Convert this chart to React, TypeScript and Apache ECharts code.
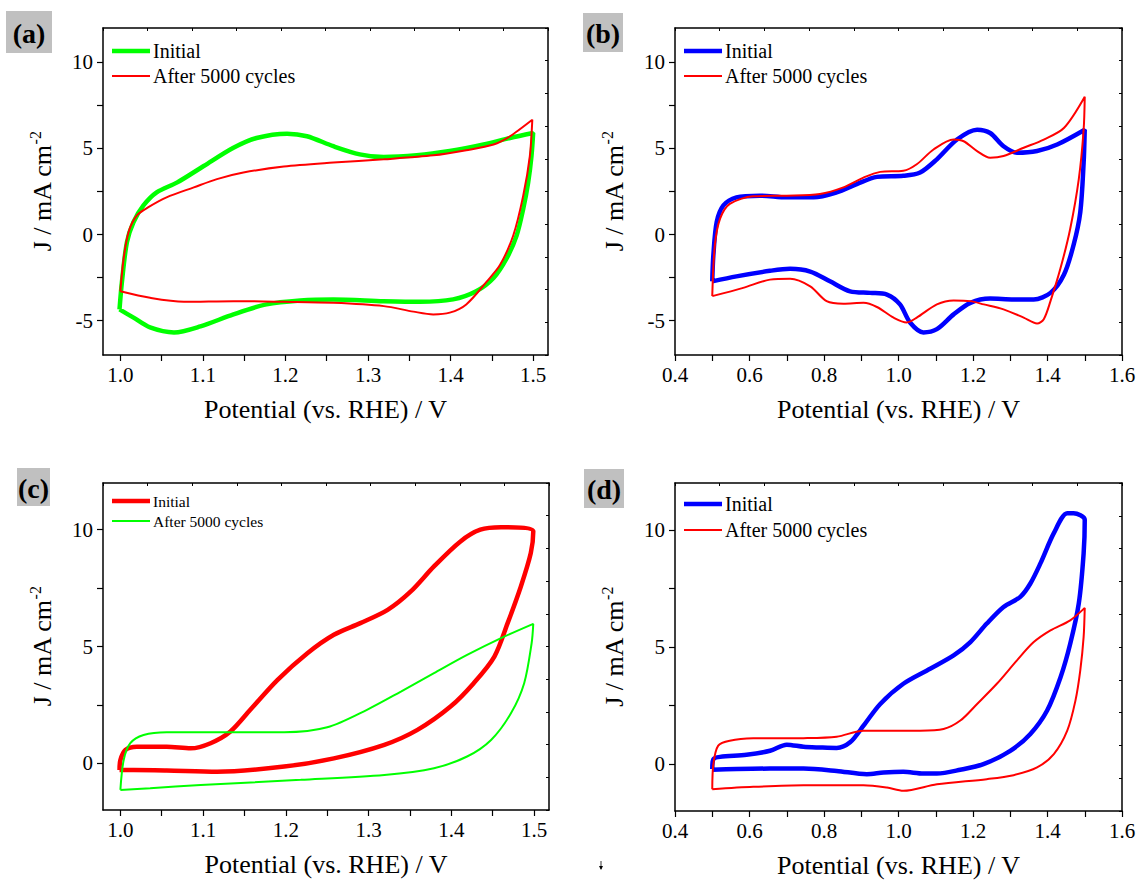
import React, { useEffect, useRef } from "react";
import * as echarts from "echarts";

// ---------- data (Potential V, J mA cm^-2) ----------
const aInitial: number[][] = [
  [0.999, -4.35], [1.002, -2.72], [1.008, -0.44], [1.016, 0.73], [1.028, 1.69], [1.044, 2.45], [1.069, 3.03],
  [1.101, 3.98], [1.137, 5.04], [1.165, 5.61], [1.202, 5.86], [1.226, 5.71], [1.258, 5.13], [1.29, 4.66],
  [1.319, 4.5], [1.359, 4.6], [1.399, 4.85], [1.44, 5.23], [1.472, 5.61], [1.5, 5.9],
  [1.498, 4.56], [1.494, 3.03], [1.488, 1.49], [1.48, -0.06], [1.468, -1.38], [1.452, -2.53], [1.431, -3.3],
  [1.403, -3.77], [1.363, -3.91], [1.319, -3.87], [1.258, -3.77], [1.218, -3.83], [1.177, -4.06], [1.137, -4.64],
  [1.097, -5.34], [1.065, -5.69], [1.036, -5.4], [1.016, -4.83], [0.999, -4.35],
];
const aAfter: number[][] = [
  [1.0, -3.3], [1.004, -1.38], [1.01, 0.15], [1.02, 1.11], [1.034, 1.59], [1.056, 2.16], [1.089, 2.74],
  [1.117, 3.22], [1.149, 3.6], [1.198, 3.95], [1.258, 4.18], [1.319, 4.37], [1.379, 4.6], [1.419, 4.9],
  [1.452, 5.23], [1.472, 5.71], [1.499, 6.67],
  [1.496, 4.56], [1.488, 2.26], [1.476, -0.04], [1.46, -1.76], [1.444, -2.72], [1.419, -4.06], [1.399, -4.54],
  [1.379, -4.64], [1.355, -4.48], [1.319, -4.16], [1.258, -3.97], [1.198, -3.91], [1.137, -3.87], [1.077, -3.91],
  [1.036, -3.68], [1.0, -3.3],
];
const bInitial: number[][] = [
  [0.5, -2.72], [0.503, -1.19], [0.512, 0.73], [0.53, 1.69], [0.565, 2.16], [0.628, 2.26], [0.7, 2.16],
  [0.772, 2.16], [0.834, 2.45], [0.888, 2.93], [0.942, 3.35], [1.013, 3.41], [1.058, 3.6], [1.103, 4.37],
  [1.157, 5.52], [1.211, 6.09], [1.246, 5.9], [1.282, 5.13], [1.318, 4.75], [1.372, 4.85], [1.426, 5.23], [1.5, 6.09],
  [1.497, 4.18], [1.488, 1.3], [1.47, -0.61], [1.444, -2.34], [1.408, -3.39], [1.363, -3.77], [1.309, -3.77],
  [1.246, -3.72], [1.193, -3.97], [1.148, -4.64], [1.103, -5.5], [1.067, -5.69], [1.031, -5.11], [1.004, -4.06],
  [0.969, -3.49], [0.924, -3.39], [0.87, -3.3], [0.816, -2.72], [0.763, -2.15], [0.709, -1.99], [0.655, -2.11],
  [0.565, -2.43], [0.5, -2.72],
];
const bAfter: number[][] = [
  [0.5, -3.58], [0.507, -0.61], [0.521, 0.92], [0.547, 1.78], [0.61, 2.22], [0.7, 2.26], [0.789, 2.36],
  [0.852, 2.74], [0.906, 3.31], [0.951, 3.64], [1.013, 3.7], [1.049, 4.08], [1.094, 4.94], [1.148, 5.52],
  [1.175, 5.42], [1.211, 4.85], [1.246, 4.46], [1.282, 4.56], [1.336, 5.04], [1.39, 5.52], [1.444, 6.19], [1.5, 8.01],
  [1.497, 6.09], [1.484, 3.22], [1.461, 0.34], [1.435, -1.95], [1.408, -3.87], [1.39, -4.92], [1.372, -5.17],
  [1.336, -4.83], [1.282, -4.35], [1.229, -4.06], [1.193, -3.87], [1.148, -3.83], [1.103, -4.06], [1.049, -4.83],
  [1.022, -5.11], [0.987, -4.83], [0.942, -4.21], [0.906, -3.97], [0.852, -4.02], [0.807, -3.87], [0.763, -3.01],
  [0.709, -2.57], [0.655, -2.62], [0.583, -3.1], [0.5, -3.58],
];
const cInitial: number[][] = [
  [0.999, -0.29], [1.0, 0.14], [1.006, 0.57], [1.02, 0.71], [1.056, 0.71], [1.085, 0.64], [1.109, 0.86],
  [1.133, 1.36], [1.157, 2.29], [1.19, 3.57], [1.226, 4.71], [1.258, 5.5], [1.29, 6.0], [1.323, 6.57],
  [1.351, 7.36], [1.379, 8.43], [1.411, 9.5], [1.435, 10.0], [1.46, 10.11], [1.499, 9.93],
  [1.496, 9.0], [1.484, 7.57], [1.468, 6.0], [1.452, 4.57], [1.427, 3.43], [1.399, 2.43], [1.359, 1.43],
  [1.319, 0.79], [1.258, 0.21], [1.198, -0.14], [1.117, -0.36], [1.056, -0.31], [1.016, -0.29], [0.999, -0.29],
];
const cAfter: number[][] = [
  [1.0, -1.14], [1.004, 0.14], [1.012, 0.86], [1.028, 1.21], [1.056, 1.33], [1.137, 1.33], [1.198, 1.33],
  [1.25, 1.54], [1.298, 2.29], [1.339, 3.07], [1.379, 3.86], [1.419, 4.64], [1.46, 5.36], [1.499, 5.97],
  [1.497, 5.14], [1.488, 3.43], [1.472, 2.14], [1.448, 1.0], [1.419, 0.29], [1.379, -0.21], [1.319, -0.5],
  [1.218, -0.71], [1.097, -0.93], [1.036, -1.07], [1.0, -1.14],
];
const dInitial: number[][] = [
  [0.5, -0.21], [0.503, 0.21], [0.521, 0.31], [0.592, 0.4], [0.655, 0.57], [0.7, 0.83], [0.745, 0.74],
  [0.789, 0.71], [0.834, 0.69], [0.87, 0.93], [0.906, 1.64], [0.951, 2.57], [1.013, 3.43], [1.085, 4.07],
  [1.148, 4.64], [1.193, 5.21], [1.237, 6.0], [1.282, 6.71], [1.327, 7.14], [1.354, 7.71], [1.381, 8.57],
  [1.417, 9.86], [1.453, 10.71], [1.47, 10.71], [1.5, 10.43],
  [1.497, 9.0], [1.484, 6.86], [1.461, 5.14], [1.435, 3.71], [1.399, 2.29], [1.354, 1.29], [1.3, 0.57],
  [1.228, 0.0], [1.166, -0.24], [1.103, -0.4], [1.067, -0.4], [1.013, -0.33], [0.96, -0.36], [0.915, -0.43],
  [0.834, -0.29], [0.745, -0.19], [0.655, -0.19], [0.565, -0.21], [0.5, -0.24],
];
const dAfter: number[][] = [
  [0.5, -1.07], [0.503, 0.0], [0.516, 0.79], [0.547, 1.0], [0.61, 1.1], [0.745, 1.11], [0.834, 1.17],
  [0.906, 1.43], [0.969, 1.43], [1.058, 1.43], [1.121, 1.5], [1.166, 1.86], [1.211, 2.57], [1.264, 3.43],
  [1.318, 4.43], [1.363, 5.21], [1.408, 5.71], [1.461, 6.14], [1.5, 6.67],
  [1.497, 5.43], [1.488, 4.0], [1.475, 2.71], [1.453, 1.43], [1.417, 0.43], [1.372, -0.14], [1.309, -0.47],
  [1.237, -0.64], [1.103, -0.86], [1.013, -1.14], [0.969, -1.0], [0.906, -0.9], [0.745, -0.9], [0.61, -0.97],
  [0.5, -1.07],
];

// tick values
const xTicksNarrow = [1.0, 1.05, 1.1, 1.15, 1.2, 1.25, 1.3, 1.35, 1.4, 1.45, 1.5];
const xLabelsNarrow = [1.0, 1.1, 1.2, 1.3, 1.4, 1.5];
const xTicksWide = [0.4, 0.5, 0.6, 0.7, 0.8, 0.9, 1.0, 1.1, 1.2, 1.3, 1.4, 1.5, 1.6];
const xLabelsWide = [0.4, 0.6, 0.8, 1.0, 1.2, 1.4, 1.6];
const yTicksTop = [-5, -2.5, 0, 2.5, 5, 7.5, 10];
const yLabelsTop = [-5, 0, 5, 10];
const yTicksBottom = [0, 2.5, 5, 7.5, 10];
const yLabelsBottom = [0, 5, 10];

const seriesNames = ["Initial", "After 5000 cycles"];
const panelLetters = ["a", "b", "c", "d"];

const GREEN = "#00ff00";
const RED = "#ff0000";
const BLUE = "#0000ff";
const FONT = "'Liberation Serif', 'Times New Roman', Times, serif";

type Panel = {
  grid: { left: number; top: number; width: number; height: number };
  xMin: number; xMax: number; xTicks: number[]; xLabels: number[];
  yMin: number; yMax: number; yTicks: number[]; yLabels: number[];
  data: number[][][]; colors: string[]; widths: number[];
  legend: { left: number; top: number; fontSize: number; itemHeight: number; itemGap: number };
  box: { x: number; y: number; w: number; h: number };
};

const panels: Panel[] = [
  {
    grid: { left: 103, top: 28, width: 445, height: 327 },
    xMin: 0.979, xMax: 1.518, xTicks: xTicksNarrow, xLabels: xLabelsNarrow,
    yMin: -7, yMax: 12, yTicks: yTicksTop, yLabels: yLabelsTop,
    data: [aInitial, aAfter], colors: [GREEN, RED], widths: [4.5, 2],
    legend: { left: 112, top: 41, fontSize: 20, itemHeight: 14, itemGap: 5 },
    box: { x: 6, y: 11, w: 46, h: 42 },
  },
  {
    grid: { left: 675, top: 28, width: 447, height: 327 },
    xMin: 0.4, xMax: 1.6, xTicks: xTicksWide, xLabels: xLabelsWide,
    yMin: -7, yMax: 12, yTicks: yTicksTop, yLabels: yLabelsTop,
    data: [bInitial, bAfter], colors: [BLUE, RED], widths: [4.5, 2],
    legend: { left: 684, top: 41, fontSize: 20, itemHeight: 14, itemGap: 5 },
    box: { x: 583, y: 13, w: 40, h: 39 },
  },
  {
    grid: { left: 103, top: 483, width: 446, height: 327 },
    xMin: 0.979, xMax: 1.518, xTicks: xTicksNarrow, xLabels: xLabelsNarrow,
    yMin: -2, yMax: 12, yTicks: yTicksBottom, yLabels: yLabelsBottom,
    data: [cInitial, cAfter], colors: [RED, GREEN], widths: [4.5, 2],
    legend: { left: 112, top: 493, fontSize: 15.5, itemHeight: 12, itemGap: 4 },
    box: { x: 17, y: 468, w: 33, h: 38 },
  },
  {
    grid: { left: 675, top: 483, width: 447, height: 328 },
    xMin: 0.4, xMax: 1.6, xTicks: xTicksWide, xLabels: xLabelsWide,
    yMin: -2, yMax: 12, yTicks: yTicksBottom, yLabels: yLabelsBottom,
    data: [dInitial, dAfter], colors: [BLUE, RED], widths: [4.5, 2],
    legend: { left: 684, top: 494, fontSize: 20, itemHeight: 14, itemGap: 6 },
    box: { x: 584, y: 469, w: 40, h: 39 },
  },
];

function buildOption() {
  const grid: any[] = [];
  const xAxis: any[] = [];
  const yAxis: any[] = [];
  const series: any[] = [];
  const legend: any[] = [];
  const graphic: any[] = [];
  const axisLineStyle = { color: "#000", width: 1.5 };

  panels.forEach((p, i) => {
    const letter = panelLetters[i];
    grid.push({ ...p.grid, containLabel: false });
    xAxis.push({
      type: "value", gridIndex: i, position: "bottom", min: p.xMin, max: p.xMax,
      axisLine: { show: true, onZero: false, lineStyle: axisLineStyle },
      axisTick: { show: true, inside: false, length: 6, customValues: p.xTicks, lineStyle: { color: "#000", width: 1.2 } },
      axisLabel: {
        customValues: p.xLabels, formatter: (v: number) => v.toFixed(1), margin: 9,
        fontSize: 21, fontFamily: FONT, color: "#000",
      },
      splitLine: { show: false },
      name: "Potential (vs. RHE) / V", nameLocation: "middle", nameGap: 41,
      nameTextStyle: { fontSize: 26, fontFamily: FONT, color: "#000" },
    });
    xAxis.push({
      type: "value", gridIndex: i, position: "top", min: 0, max: 10, interval: 1,
      axisLine: { show: true, onZero: false, lineStyle: axisLineStyle },
      axisTick: { show: true, inside: true, length: 3, lineStyle: { color: "#000", width: 1 } },
      axisLabel: { show: false }, splitLine: { show: false },
    });
    yAxis.push({
      type: "value", gridIndex: i, position: "left", min: p.yMin, max: p.yMax,
      axisLine: { show: true, onZero: false, lineStyle: axisLineStyle },
      axisTick: { show: true, inside: false, length: 6, customValues: p.yTicks, lineStyle: { color: "#000", width: 1.2 } },
      axisLabel: { customValues: p.yLabels, margin: 10, fontSize: 21, fontFamily: FONT, color: "#000" },
      splitLine: { show: false },
      name: "{b|J / mA cm}{s|-2}", nameLocation: "middle", nameGap: 46, nameRotate: 90,
      nameTextStyle: {
        fontFamily: FONT, color: "#000",
        rich: {
          b: { fontSize: 26, fontFamily: FONT, color: "#000", lineHeight: 30 },
          s: { fontSize: 16, fontFamily: FONT, color: "#000", verticalAlign: "top", lineHeight: 30 },
        },
      },
    });
    yAxis.push({
      type: "value", gridIndex: i, position: "right", min: 0, max: 10, interval: 1,
      axisLine: { show: true, onZero: false, lineStyle: axisLineStyle },
      axisTick: { show: true, inside: true, length: 3, lineStyle: { color: "#000", width: 1 } },
      axisLabel: { show: false }, splitLine: { show: false },
    });

    const legendData: any[] = [];
    p.data.forEach((d, k) => {
      const nm = seriesNames[k] + "|" + letter;
      const w = p.widths[k];
      legendData.push({ name: nm, icon: `path://M0 0H38V${w}H0Z` });
      series.push({
        type: "line", name: nm, xAxisIndex: i * 2, yAxisIndex: i * 2, data: d,
        symbol: "none", showSymbol: false, smooth: 0.3, clip: true,
        lineStyle: { color: p.colors[k], width: w },
        itemStyle: { color: p.colors[k] },
        z: k === 0 ? 3 : 4,
      });
    });

    legend.push({
      data: legendData, left: p.legend.left, top: p.legend.top, orient: "vertical",
      itemWidth: 38, itemHeight: p.legend.itemHeight, itemGap: p.legend.itemGap,
      selectedMode: false, padding: 0,
      formatter: (n: string) => n.split("|")[0],
      textStyle: { fontSize: p.legend.fontSize, fontFamily: FONT, color: "#000", padding: [0, 0, 0, -2] },
    });

    graphic.push({
      type: "rect", shape: { x: p.box.x, y: p.box.y, width: p.box.w, height: p.box.h },
      style: { fill: "#c0c0c0" }, silent: true,
    });
    graphic.push({
      type: "text", x: p.box.x + p.box.w / 2, y: p.box.y + p.box.h / 2 + 1,
      style: {
        text: "(" + letter + ")", fontSize: 28, fontWeight: "bold", fontFamily: FONT, fill: "#000",
        align: "center", verticalAlign: "middle",
      },
      silent: true,
    });
  });

  graphic.push({ type: "line", shape: { x1: 601, y1: 861, x2: 601, y2: 869 }, style: { stroke: "#000", lineWidth: 0.8 } });
  graphic.push({ type: "polygon", shape: { points: [[599, 866], [603, 866], [601, 870]] }, style: { fill: "#000" } });

  return {
    animation: false,
    backgroundColor: "#fff",
    grid, xAxis, yAxis, series, legend, graphic,
  };
}

export default function App() {
  const ref = useRef<HTMLDivElement>(null);
  useEffect(() => {
    if (!ref.current) return;
    const chart = echarts.init(ref.current, undefined, { renderer: "svg" });
    chart.setOption(buildOption() as any);
    return () => chart.dispose();
  }, []);
  return (
    <div
      ref={ref}
      style={{ position: "fixed", left: 0, top: 0, width: 1140, height: 883, background: "#fff" }}
    />
  );
}
